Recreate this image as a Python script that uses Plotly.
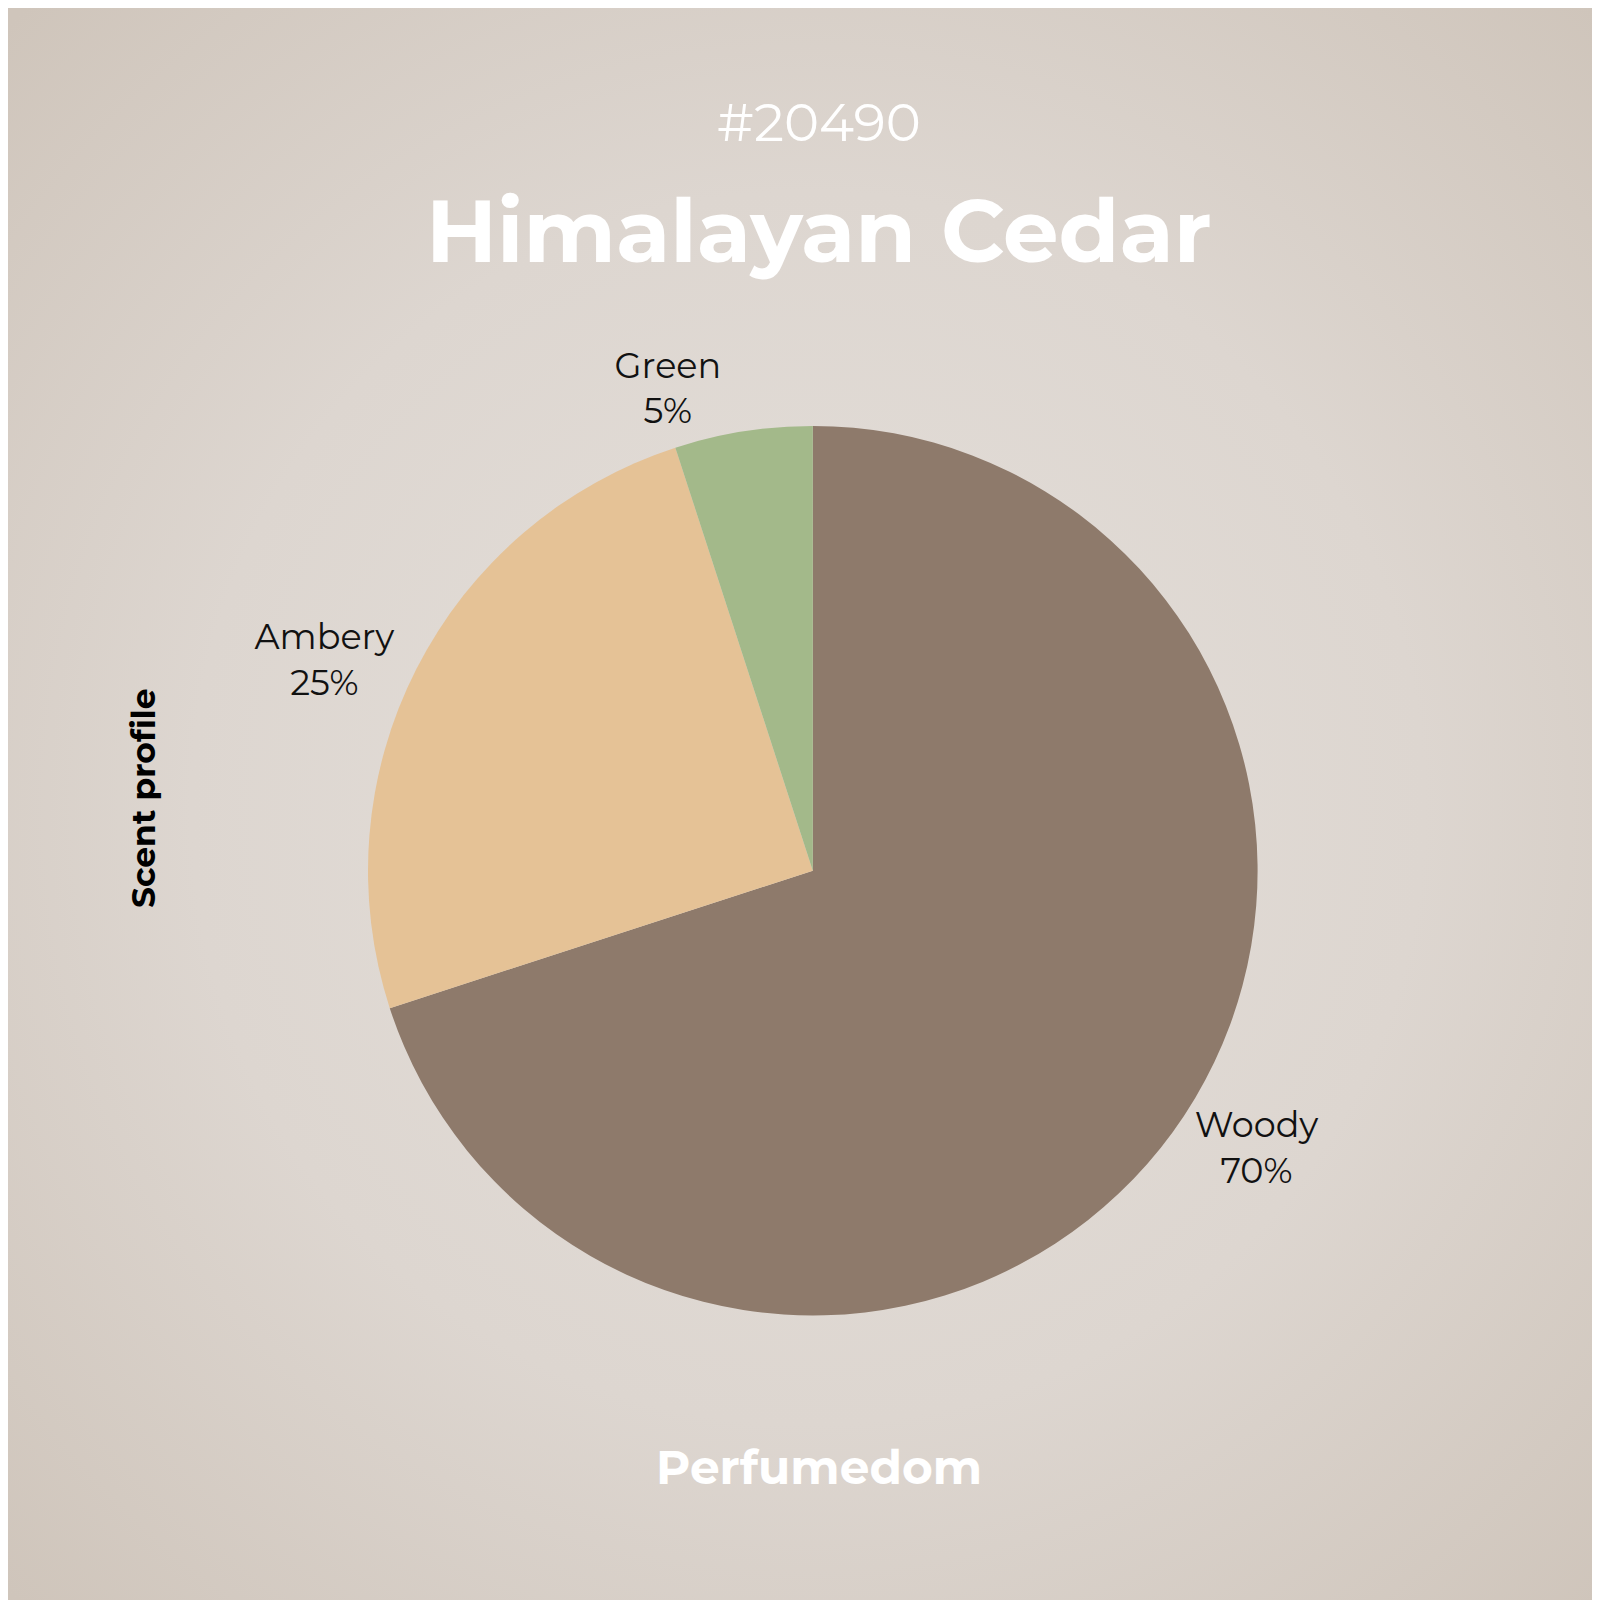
import base64
import plotly.graph_objects as go

# scent profile data
notes = ['Woody', 'Ambery', 'Green']
shares = [70, 25, 5]
note_colors = ['#8e7a6b', '#e5c296', '#a3b98a']

perfume_id = '#20490'
perfume_name = 'Himalayan Cedar'
axis_label = 'Scent profile'
brand = 'Perfumedom'

FONT = 'Montserrat, Lato, Open Sans, sans-serif'

# radial gradient backdrop
svg = ('<svg xmlns="http://www.w3.org/2000/svg" width="1600" height="1600">'
       '<defs><radialGradient id="g" cx="50%" cy="50%" r="70%">'
       '<stop offset="0%" stop-color="#e4dfda"/>'
       '<stop offset="55%" stop-color="#ddd6d0"/>'
       '<stop offset="100%" stop-color="#cfc5bb"/>'
       '</radialGradient></defs>'
       '<rect width="1600" height="1600" fill="url(#g)"/></svg>')
bg_src = 'data:image/svg+xml;base64,' + base64.b64encode(svg.encode()).decode()

fig = go.Figure(go.Pie(
    labels=notes,
    values=shares,
    marker=dict(colors=note_colors),
    sort=False,
    direction='clockwise',
    rotation=0,
    texttemplate='%{label}<br>%{percent:.0%}',
    textposition='outside',
    textfont=dict(family=FONT, size=35, color='#111111'),
    showlegend=False,
    hoverinfo='skip',
    domain=dict(x=[0.2245, 0.7815], y=[0.1828, 0.7388]),
))

fig.update_layout(
    width=1600, height=1600,
    margin=dict(l=0, r=0, t=0, b=0),
    paper_bgcolor='#ddd6d0',
    plot_bgcolor='rgba(0,0,0,0)',
    images=[dict(source=bg_src, xref='paper', yref='paper', x=0, y=1,
                 sizex=1, sizey=1, sizing='stretch', layer='below')],
    annotations=[
        dict(text=perfume_id, x=0.507, y=0.9286, xref='paper', yref='paper',
             xanchor='center', yanchor='middle',
             showarrow=False, font=dict(family=FONT, size=53, color='white')),
        dict(text='<b>' + perfume_name + '</b>', x=0.507, y=0.861, xref='paper', yref='paper',
             xanchor='center', yanchor='middle',
             showarrow=False, font=dict(family=FONT, size=88, color='white')),
        dict(text='<b>' + axis_label + '</b>', x=0.0848, y=0.506, xref='paper', yref='paper',
             xanchor='center', yanchor='middle', textangle=-90,
             showarrow=False, font=dict(family=FONT, size=33, color='black')),
        dict(text='<b>' + brand + '</b>', x=0.507, y=0.088, xref='paper', yref='paper',
             xanchor='center', yanchor='middle',
             showarrow=False, font=dict(family=FONT, size=47, color='white')),
    ],
)

fig.write_html('out.html')
